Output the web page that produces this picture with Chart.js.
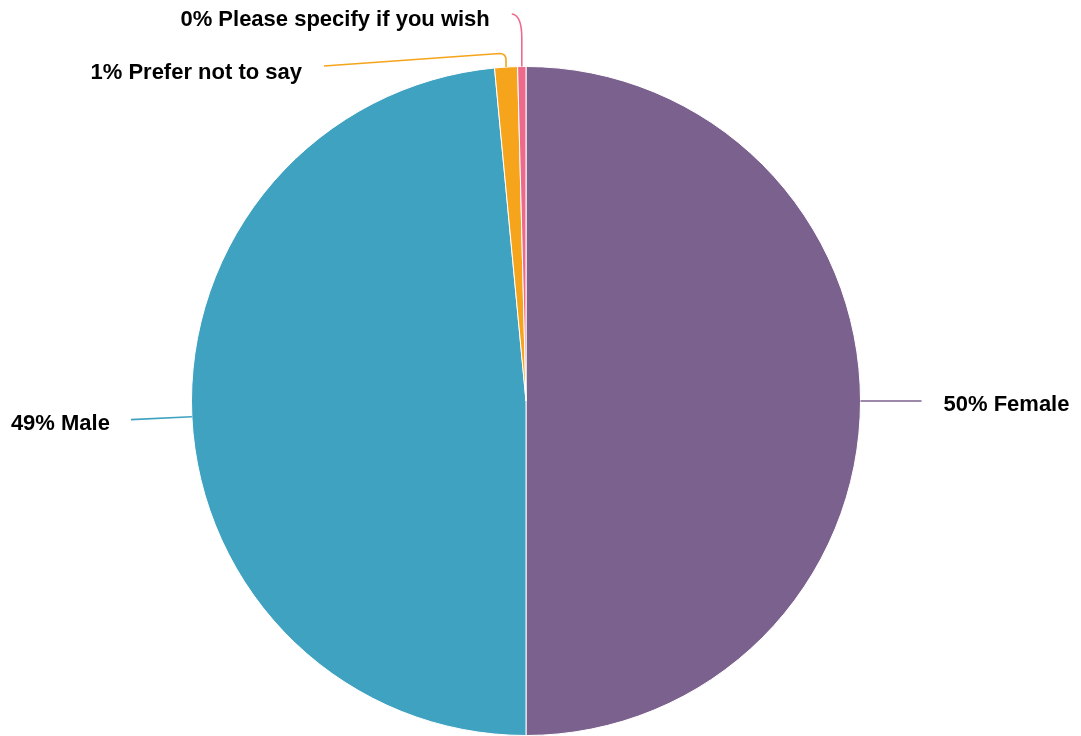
<!DOCTYPE html>
<html>
<head>
<meta charset="utf-8">
<script src="https://cdn.jsdelivr.net/npm/chart.js@4"></script>
<style>
html,body{margin:0;padding:0;background:#fff;}
#wrap{width:1081px;height:736px;}
</style>
</head>
<body>
<div id="wrap"><canvas id="c" width="1081" height="736"></canvas></div>
<script>
const categories = ["Female", "Male", "Prefer not to say", "Please specify if you wish"];
const values = [50.0, 48.5, 1.1, 0.4];
const colors = ["#7B618D", "#40A2C1", "#F5A41B", "#EE6A8D"];

// label leader geometry (style only)
const leaders = [
  {type: "radial", ext: 61, gap: 22},
  {type: "radial", ext: 61, gap: 21},
  {type: "hook", upTo: 60, ctrlY: 53.5, bendX: -6.5, endX: 324, endY: 66, gap: 22, dy: 7},
  {type: "hook", upTo: 38, ctrlY: 15, bendX: -10, endX: null, endY: 14, gap: 22, dy: 6}
];

const labelPlugin = {
  id: "leaderLabels",
  afterDraw(chart) {
    const ctx = chart.ctx;
    const meta = chart.getDatasetMeta(0);
    const total = values.reduce((a, b) => a + b, 0);
    ctx.save();
    ctx.font = "bold 22px 'Liberation Sans', Arial, sans-serif";
    ctx.lineWidth = 1.6;
    meta.data.forEach((arc, i) => {
      const p = arc.getProps(["x", "y", "startAngle", "endAngle", "outerRadius"], true);
      const mid = (p.startAngle + p.endAngle) / 2;
      const ax = p.x + Math.cos(mid) * p.outerRadius;
      const ay = p.y + Math.sin(mid) * p.outerRadius;
      const text = Math.round(values[i] / total * 100) + "% " + categories[i];
      const L = leaders[i];
      ctx.strokeStyle = colors[i];
      ctx.beginPath();
      let tx, ty, align;
      if (L.type === "radial") {
        const ex = ax + Math.cos(mid) * L.ext;
        const ey = ay + Math.sin(mid) * L.ext;
        ctx.moveTo(ax, ay);
        ctx.lineTo(ex, ey);
        const right = Math.cos(mid) >= 0;
        align = right ? "left" : "right";
        tx = right ? ex + L.gap : ex - L.gap;
        ty = ey + 4;
      } else {
        ctx.moveTo(ax, ay);
        ctx.lineTo(ax, L.upTo);
        const bx = ax + L.bendX;
        ctx.quadraticCurveTo(ax, L.ctrlY, bx, L.endX === null ? L.endY : L.ctrlY);
        let ex, ey;
        if (L.endX !== null) {
          ex = L.endX; ey = L.endY;
          ctx.lineTo(ex, ey);
        } else {
          ex = bx; ey = L.endY;
        }
        align = "right";
        tx = ex - L.gap;
        ty = ey + L.dy;
      }
      ctx.stroke();
      ctx.fillStyle = "#000";
      ctx.textAlign = align;
      ctx.textBaseline = "middle";
      ctx.fillText(text, tx, ty);
    });
    ctx.restore();
  }
};

new Chart(document.getElementById("c"), {
  type: "pie",
  data: {
    labels: categories,
    datasets: [{
      data: values,
      backgroundColor: colors,
      borderColor: "#ffffff",
      borderWidth: 1,
      hoverOffset: 0
    }]
  },
  options: {
    responsive: false,
    animation: false,
    layout: {padding: {left: 191, right: 220, top: 66, bottom: 0}},
    plugins: {legend: {display: false}, tooltip: {enabled: false}}
  },
  plugins: [labelPlugin]
});
</script>
</body>
</html>
